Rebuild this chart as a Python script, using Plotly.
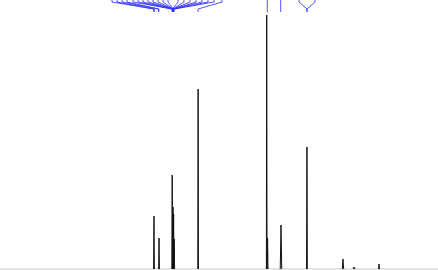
import plotly.graph_objects as go

# Peak list (chemical shift in ppm, intensity in arbitrary units)
peak_ppm = [7.43, 7.28, 6.889, 6.865, 6.847, 6.830, 6.12, 4.084, 4.058, 3.66, 2.89, 1.82, 1.49, 0.75]
peak_int = [53, 31, 94, 62, 55, 30, 180, 254, 31, 44, 122, 10, 2, 5]
peak_hw = [0.012, 0.012, 0.012, 0.012, 0.012, 0.012, 0.010, 0.010, 0.012, 0.022, 0.012, 0.02, 0.03, 0.012]

# Peak-label leader lines: label anchor (ppm) at top -> peak (ppm)
label_ppm = [8.676, 8.527, 8.379, 8.231, 8.053, 7.904, 7.756, 7.607, 7.459, 7.311, 7.162, 7.014,
             6.717, 6.539, 6.361, 6.183, 6.005, 5.826, 5.648, 5.411, 4.067, 3.669, 3.126, 2.651]
target_ppm = [7.43, 7.43, 7.29, 7.29, 6.889, 6.885, 6.880, 6.875, 6.870, 6.865, 6.860, 6.855,
              6.880, 6.870, 6.862, 6.855, 6.848, 6.842, 6.836, 6.12, 4.067, 3.669, 2.89, 2.89]

X_RANGE = [12.0, -1.0]
Y_RANGE = [-1, 269]

fig = go.Figure()

# baseline
fig.add_trace(go.Scatter(x=[X_RANGE[0], X_RANGE[1]], y=[0, 0], mode="lines",
                         line=dict(color="#c8c8c8", width=1), hoverinfo="skip"))

# peaks
xs, ys = [], []
for p, h, w in zip(peak_ppm, peak_int, peak_hw):
    xs += [p + w, p, p - w, None]
    ys += [0, h, 0, None]
fig.add_trace(go.Scatter(x=xs, y=ys, mode="lines",
                         line=dict(color="#111111", width=1), hoverinfo="skip"))

# label leader lines
Y_TOP, Y_BEND1, Y_BEND2, Y_END = 270, 267, 260, 257
lx, ly = [], []
for a, t in zip(label_ppm, target_ppm):
    lx += [a, a, t, t, None]
    ly += [Y_TOP, Y_BEND1, Y_BEND2, Y_END, None]
fig.add_trace(go.Scatter(x=lx, y=ly, mode="lines",
                         line=dict(color="rgba(50,50,255,0.85)", width=1), hoverinfo="skip"))

fig.update_layout(
    width=438, height=270,
    margin=dict(l=0, r=0, t=0, b=0),
    paper_bgcolor="white", plot_bgcolor="white",
    showlegend=False,
    xaxis=dict(range=X_RANGE, visible=False, showgrid=False, zeroline=False),
    yaxis=dict(range=Y_RANGE, visible=False, showgrid=False, zeroline=False),
)

fig.write_html("out.html")
